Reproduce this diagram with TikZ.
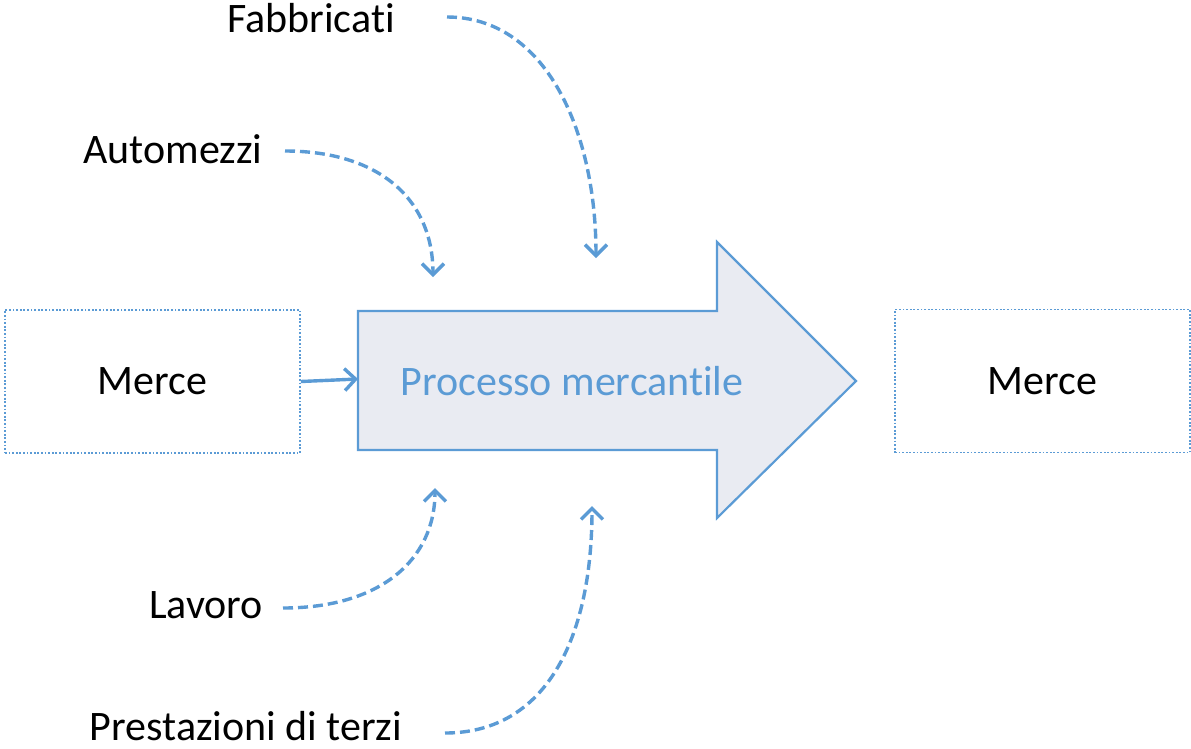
\documentclass[tikz,border=0pt]{standalone}
\usepackage{fontspec}
\setmainfont{Carlito}[Ligatures={NoCommon}]
\usetikzlibrary{arrows.meta}
\definecolor{acc}{HTML}{5B9BD5}
\definecolor{afill}{HTML}{E9EBF2}
\begin{document}
\begin{tikzpicture}[x=1pt,y=-1pt,
  lbl/.style={font=\fontsize{42}{50}\selectfont, anchor=base, inner sep=0pt},
  dotbox/.style={draw=acc, line width=1.8pt, dash pattern=on 1.8pt off 1.8pt, minimum width=295pt, minimum height=143pt, inner sep=0pt, font=\fontsize{42}{50}\selectfont},
  flow/.style={draw=acc, line width=3.4pt, dash pattern=on 10pt off 5pt, -{Straight Barb[length=11pt,width=22pt]}},
  solidflow/.style={draw=acc, line width=3.4pt, -{Straight Barb[length=11pt,width=22pt]}}]
\useasboundingbox (0,0) rectangle (1191,748);
% big arrow
\draw[acc, fill=afill, line width=2.2pt, line join=miter]
  (358,311) -- (717,311) -- (717,242) -- (856,381) -- (717,518) -- (717,450) -- (358,450) -- cycle;
\node[lbl, text=acc] (proc) at (572,395) {Processo mercantile};
\coordinate (procin) at (358,379);
% boxes
\node[dotbox] (m1) at (152.5,381.5) {Merce};
\node[dotbox] (m2) at (1042.5,381) {Merce};
\draw[solidflow] (m1.east) -- (procin);
% labels
\node[lbl] (fab) at (311,32) {Fabbricati};
\node[lbl] (aut) at (173,163) {Automezzi};
\node[lbl] (lav) at (206,618) {Lavoro};
\node[lbl] (pre) at (246,740) {Prestazioni di terzi};
\coordinate (fabS) at (447,17);
\coordinate (fabE) at (596,258);
\coordinate (autS) at (285,151);
\coordinate (autE) at (433,277);
\coordinate (lavS) at (283,608);
\coordinate (lavE) at (435,488);
\coordinate (preS) at (445,733);
\coordinate (preE) at (592,506);
\draw[flow] (fabS) .. controls (545,17) and (596,130) .. (fabE);
\draw[flow] (autS) .. controls (380,151) and (433,200) .. (autE);
\draw[flow] (lavS) .. controls (380,608) and (435,560) .. (lavE);
\draw[flow] (preS) .. controls (545,733) and (592,640) .. (preE);
\end{tikzpicture}
\end{document}
